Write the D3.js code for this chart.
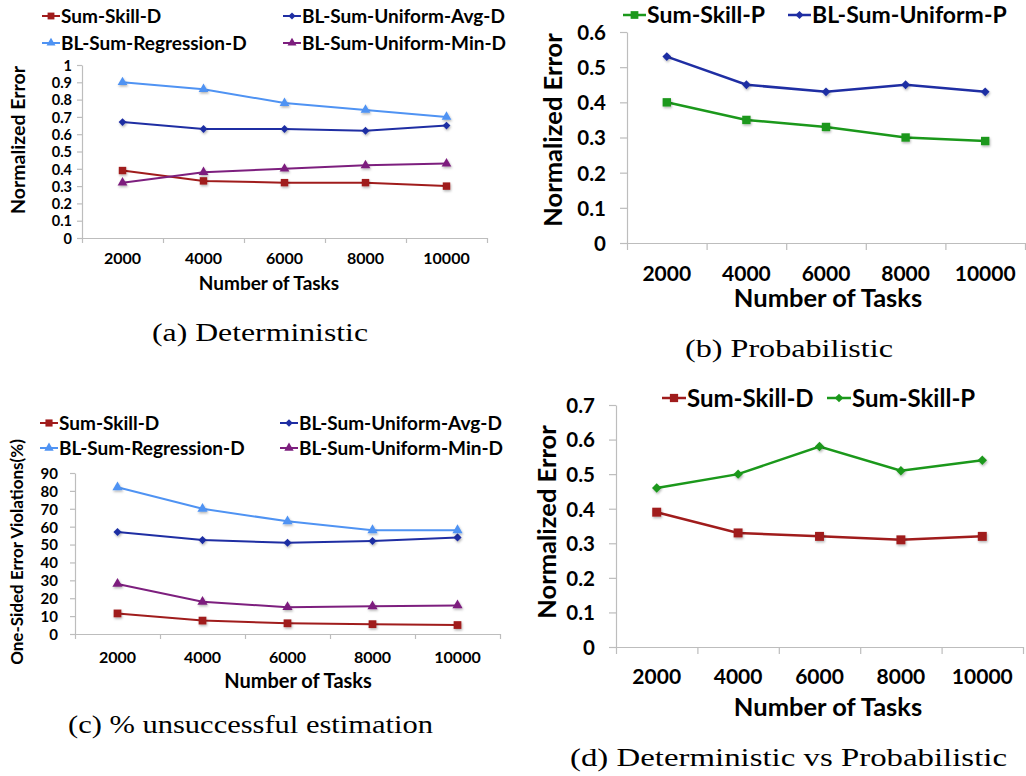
<!DOCTYPE html>
<html>
<head>
<meta charset="utf-8">
<script src="https://cdn.jsdelivr.net/npm/d3@7"></script>
<style>
body { margin: 0; background: #fff; }
text { font-family: Lato, "Open Sans", sans-serif; font-weight: bold; fill: #000; }
text.cap { font-family: "Liberation Serif", serif; font-weight: normal; }
</style>
</head>
<body>
<svg id="chart" width="1026" height="776"></svg>
<script>
// number of tasks (x categories)
var tasks = ["2000", "4000", "6000", "8000", "10000"];

// (a) deterministic, normalized error
var skillD_a = [0.39, 0.33, 0.32, 0.32, 0.30];
var uniformAvgD_a = [0.67, 0.63, 0.63, 0.62, 0.65];
var regressionD_a = [0.90, 0.86, 0.78, 0.74, 0.70];
var uniformMinD_a = [0.32, 0.38, 0.40, 0.42, 0.43];
var yTicks_a = [0, 0.1, 0.2, 0.3, 0.4, 0.5, 0.6, 0.7, 0.8, 0.9, 1];

// (b) probabilistic, normalized error
var skillP_b = [0.40, 0.35, 0.33, 0.30, 0.29];
var uniformP_b = [0.53, 0.45, 0.43, 0.45, 0.43];
var yTicks_b = [0, 0.1, 0.2, 0.3, 0.4, 0.5, 0.6];

// (c) one-sided error violations (%)
var skillD_c = [11.5, 7.5, 6, 5.5, 5];
var uniformAvgD_c = [57, 52.5, 51, 52, 54];
var regressionD_c = [82, 70, 63, 58, 58];
var uniformMinD_c = [28, 18, 15, 15.5, 16];
var yTicks_c = [0, 10, 20, 30, 40, 50, 60, 70, 80, 90];

// (d) deterministic vs probabilistic
var skillD_d = [0.39, 0.33, 0.32, 0.31, 0.32];
var skillP_d = [0.46, 0.50, 0.58, 0.51, 0.54];
var yTicks_d = [0, 0.1, 0.2, 0.3, 0.4, 0.5, 0.6, 0.7];

var red = "#a01c1c", navy = "#1f2ea3", sky = "#4f93f3", purple = "#7d1f7e", green = "#1b981b";

var svg = d3.select("#chart");
svg.append("rect").attr("width", 1026).attr("height", 776).attr("fill", "#fff");

var defs = svg.append("defs");
var f = defs.append("filter").attr("id", "shadow").attr("x", "-50%").attr("y", "-50%").attr("width", "200%").attr("height", "200%");
f.append("feDropShadow").attr("dx", 0.8).attr("dy", 1.5).attr("stdDeviation", 0.9).attr("flood-color", "#000").attr("flood-opacity", 0.3);

function markerAt(g, cx, cy, s, size) {
    var type = s.shape == "triangle" ? d3.symbolTriangle : d3.symbolSquare;
    var k = s.shape == "diamond" ? 0.55 : (s.shape == "triangle" ? 0.75 : 1);
    return g.append("path")
        .attr("d", d3.symbol().type(type).size(size * k)())
        .attr("transform", "translate(" + cx + "," + cy + ")" + (s.shape == "diamond" ? " rotate(45)" : ""))
        .attr("fill", s.color);
}

function drawPanel(p) {
    var g = svg.append("g");
    var x = d3.scaleBand().domain(tasks).range([p.left, p.right]);
    var edge = d3.scaleLinear().domain([0, tasks.length]).range([p.left, p.right]);
    var y = d3.scaleLinear().domain([0, p.yMax]).range([p.bottom, p.top]);

    var ya = g.append("g")
        .attr("transform", "translate(" + p.left + ",0)")
        .call(d3.axisLeft(y).tickValues(p.yTicks).tickSize(p.tickLen).tickSizeOuter(0)
            .tickPadding(p.yPad).tickFormat(d3.format("~g")));
    ya.selectAll("text").style("font-size", p.tickFont + "px").attr("dy", "0.36em");

    g.append("g")
        .attr("transform", "translate(0," + p.bottom + ")")
        .call(d3.axisBottom(edge).tickValues(d3.range(tasks.length + 1)).tickSize(p.tickLen)
            .tickSizeOuter(0).tickFormat(""));

    g.selectAll(".domain, .tick line").attr("stroke", "#bdbdbd").attr("stroke-width", 1.2);

    var xl = g.append("g")
        .attr("transform", "translate(0," + p.labelY + ")")
        .call(d3.axisBottom(x).tickSize(0).tickPadding(0));
    xl.select(".domain").remove();
    xl.selectAll("text").attr("dy", "0.36em").style("font-size", p.xTickFont + "px");

    g.append("text")
        .attr("x", p.xTitle[0]).attr("y", p.xTitle[1])
        .attr("text-anchor", "middle").attr("dy", "0.36em")
        .style("font-size", p.titleFont + "px")
        .text("Number of Tasks");

    g.append("text")
        .attr("transform", "translate(" + p.yTitle[0] + "," + p.yTitle[1] + ") rotate(-90)")
        .attr("text-anchor", "middle").attr("dy", "0.36em")
        .style("font-size", p.yTitleFont + "px")
        .text(p.yLabel);

    var line = d3.line()
        .x(function(d, i) { return x(tasks[i]) + x.bandwidth() / 2; })
        .y(function(d) { return y(d); });

    p.series.forEach(function(s) {
        g.append("path").datum(s.values)
            .attr("d", line)
            .attr("fill", "none")
            .attr("stroke", s.color)
            .attr("stroke-width", p.lineW);
    });
    p.series.forEach(function(s) {
        var mk = g.append("g").attr("filter", "url(#shadow)");
        s.values.forEach(function(v, i) {
            markerAt(mk, x(tasks[i]) + x.bandwidth() / 2, y(v), s, p.markSize);
        });
    });

    // legend
    p.series.forEach(function(s) {
        var lg = g.append("g");
        var lx = s.legend[0], ly = s.legend[1];
        lg.append("line")
            .attr("x1", lx).attr("x2", lx + p.legLine)
            .attr("y1", ly).attr("y2", ly)
            .attr("stroke", s.color).attr("stroke-width", p.lineW);
        markerAt(lg, lx + p.legLine / 2, ly, s, p.markSize * 0.85);
        lg.append("text")
            .attr("x", lx + p.legLine + 1).attr("y", ly)
            .attr("dy", "0.36em")
            .style("font-size", p.legFont + "px")
            .text(s.name);
    });
}

drawPanel({
    left: 82, right: 487, top: 65, bottom: 238, yMax: 1, yTicks: yTicks_a,
    tickLen: 5, yPad: 5, tickFont: 14.5, xTickFont: 16, labelY: 258, titleFont: 19,
    xTitle: [269, 283], yTitle: [18, 140], yTitleFont: 19.5, yLabel: "Normalized Error",
    lineW: 2, markSize: 55, legLine: 18, legFont: 19,
    series: [
        {name: "Sum-Skill-D", values: skillD_a, color: red, shape: "square", legend: [42, 16]},
        {name: "BL-Sum-Uniform-Avg-D", values: uniformAvgD_a, color: navy, shape: "diamond", legend: [283, 16]},
        {name: "BL-Sum-Regression-D", values: regressionD_a, color: sky, shape: "triangle", legend: [42, 43]},
        {name: "BL-Sum-Uniform-Min-D", values: uniformMinD_a, color: purple, shape: "triangle", legend: [283, 43]}
    ]
});

drawPanel({
    left: 627, right: 1025, top: 32, bottom: 243, yMax: 0.6, yTicks: yTicks_b,
    tickLen: 7, yPad: 14, tickFont: 20.5, xTickFont: 21, labelY: 273, titleFont: 25.5,
    xTitle: [828, 298], yTitle: [553, 130], yTitleFont: 25.5, yLabel: "Normalized Error",
    lineW: 2.5, markSize: 70, legLine: 23, legFont: 23,
    series: [
        {name: "Sum-Skill-P", values: skillP_b, color: green, shape: "square", legend: [623, 15]},
        {name: "BL-Sum-Uniform-P", values: uniformP_b, color: navy, shape: "diamond", legend: [788, 15]}
    ]
});

drawPanel({
    left: 75, right: 500, top: 473, bottom: 634, yMax: 90, yTicks: yTicks_c,
    tickLen: 5, yPad: 12, tickFont: 15, xTickFont: 16, labelY: 657, titleFont: 20,
    xTitle: [298, 681], yTitle: [17, 552], yTitleFont: 17, yLabel: "One-Sided Error Violations(%)",
    lineW: 2, markSize: 60, legLine: 18, legFont: 19,
    series: [
        {name: "Sum-Skill-D", values: skillD_c, color: red, shape: "square", legend: [40, 423]},
        {name: "BL-Sum-Uniform-Avg-D", values: uniformAvgD_c, color: navy, shape: "diamond", legend: [280, 423]},
        {name: "BL-Sum-Regression-D", values: regressionD_c, color: sky, shape: "triangle", legend: [40, 448]},
        {name: "BL-Sum-Uniform-Min-D", values: uniformMinD_c, color: purple, shape: "triangle", legend: [280, 448]}
    ]
});

drawPanel({
    left: 616, right: 1023, top: 405, bottom: 647, yMax: 0.7, yTicks: yTicks_d,
    tickLen: 7, yPad: 14, tickFont: 20.5, xTickFont: 21, labelY: 676, titleFont: 25.5,
    xTitle: [828, 707], yTitle: [547, 522], yTitleFont: 25.5, yLabel: "Normalized Error",
    lineW: 2.5, markSize: 80, legLine: 24, legFont: 24,
    series: [
        {name: "Sum-Skill-D", values: skillD_d, color: red, shape: "square", legend: [662, 398]},
        {name: "Sum-Skill-P", values: skillP_d, color: green, shape: "diamond", legend: [827, 398]}
    ]
});

// sub-figure captions
var captions = [
    {text: "(a) Deterministic", x: 152, y: 341, w: 216},
    {text: "(b) Probabilistic", x: 685, y: 357, w: 208},
    {text: "(c) % unsuccessful estimation", x: 68, y: 733, w: 365},
    {text: "(d) Deterministic vs Probabilistic", x: 570, y: 766, w: 437}
];
svg.selectAll("text.cap").data(captions).enter().append("text")
    .attr("class", "cap")
    .attr("x", function(d) { return d.x; })
    .attr("y", function(d) { return d.y; })
    .attr("textLength", function(d) { return d.w; })
    .attr("lengthAdjust", "spacingAndGlyphs")
    .style("font-size", "25px")
    .text(function(d) { return d.text; });
</script>
</body>
</html>
